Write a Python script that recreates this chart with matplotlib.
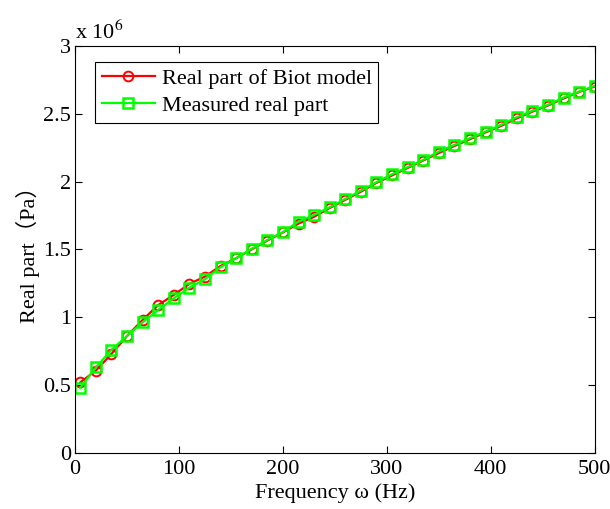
import matplotlib
matplotlib.use('Agg')
from matplotlib import pyplot as plt

plt.rcParams['font.family'] = ['Liberation Serif', 'Noto Sans CJK SC']
plt.rcParams['mathtext.fontset'] = 'stix'

freq = [5, 20, 35, 50, 65, 80, 95, 110, 125, 140, 155, 170, 185, 200, 215, 230, 245,
        260, 275, 290, 305, 320, 335, 350, 365, 380, 395, 410, 425, 440, 455, 470, 485, 500]
# values in units of 1e6 Pa
biot = [0.52, 0.607, 0.73, 0.862, 0.98, 1.09, 1.165, 1.246, 1.30, 1.378, 1.435, 1.50,
        1.565, 1.625, 1.69, 1.74, 1.805, 1.865, 1.925, 1.99, 2.045, 2.10, 2.155, 2.21,
        2.262, 2.312, 2.362, 2.41, 2.465, 2.515, 2.56, 2.612, 2.66, 2.70]
measured = [0.48, 0.63, 0.76, 0.862, 0.963, 1.054, 1.14, 1.218, 1.28, 1.369, 1.435, 1.505,
            1.57, 1.627, 1.705, 1.754, 1.811, 1.872, 1.933, 1.995, 2.054, 2.106, 2.16, 2.221,
            2.27, 2.32, 2.368, 2.418, 2.474, 2.521, 2.565, 2.619, 2.663, 2.705]

fig = plt.figure(figsize=(6.1, 5.09), dpi=100)
ax = fig.add_axes([0.123, 0.110, 0.852, 0.800])

ax.plot(freq, biot, color='#ff0000', lw=1.6, marker='o', ms=7, mfc='none', mew=1.4,
        label='Real part of Biot model')
ax.plot(freq, measured, color='#00ff00', lw=1.6, marker='s', ms=7, mfc='none', mew=1.8,
        label='Measured real part')

ax.set_xlim(0, 500)
ax.set_ylim(0, 3)
ax.set_xticks([0, 100, 200, 300, 400, 500])
ax.set_yticks([0, 0.5, 1, 1.5, 2, 2.5, 3])
ax.set_yticklabels(['0', '0.5', '1', '1.5', '2', '2.5', '3'])
ax.tick_params(direction='in', top=True, right=True, labelsize=16, length=5, width=0.8, pad=3)
ax.tick_params(axis='x', pad=5)
for s in ax.spines.values():
    s.set_linewidth(0.8)

ax.set_xlabel('Frequency ω (Hz)', fontsize=16, labelpad=3)
ax.set_ylabel('Real part（Pa）', fontsize=16, labelpad=2)
ax.text(0.0, 1.005, r'x 10$^{6}$', transform=ax.transAxes, fontsize=16, ha='left', va='bottom')

leg = ax.legend(loc='upper left', bbox_to_anchor=(0.0385, 0.961), fontsize=16, fancybox=False,
                edgecolor='black', framealpha=1, handlelength=2.4, borderpad=0.3,
                labelspacing=0.3, handletextpad=0.3, borderaxespad=0)
leg.get_frame().set_linewidth(0.8)

fig.savefig('out.png', dpi=100)
